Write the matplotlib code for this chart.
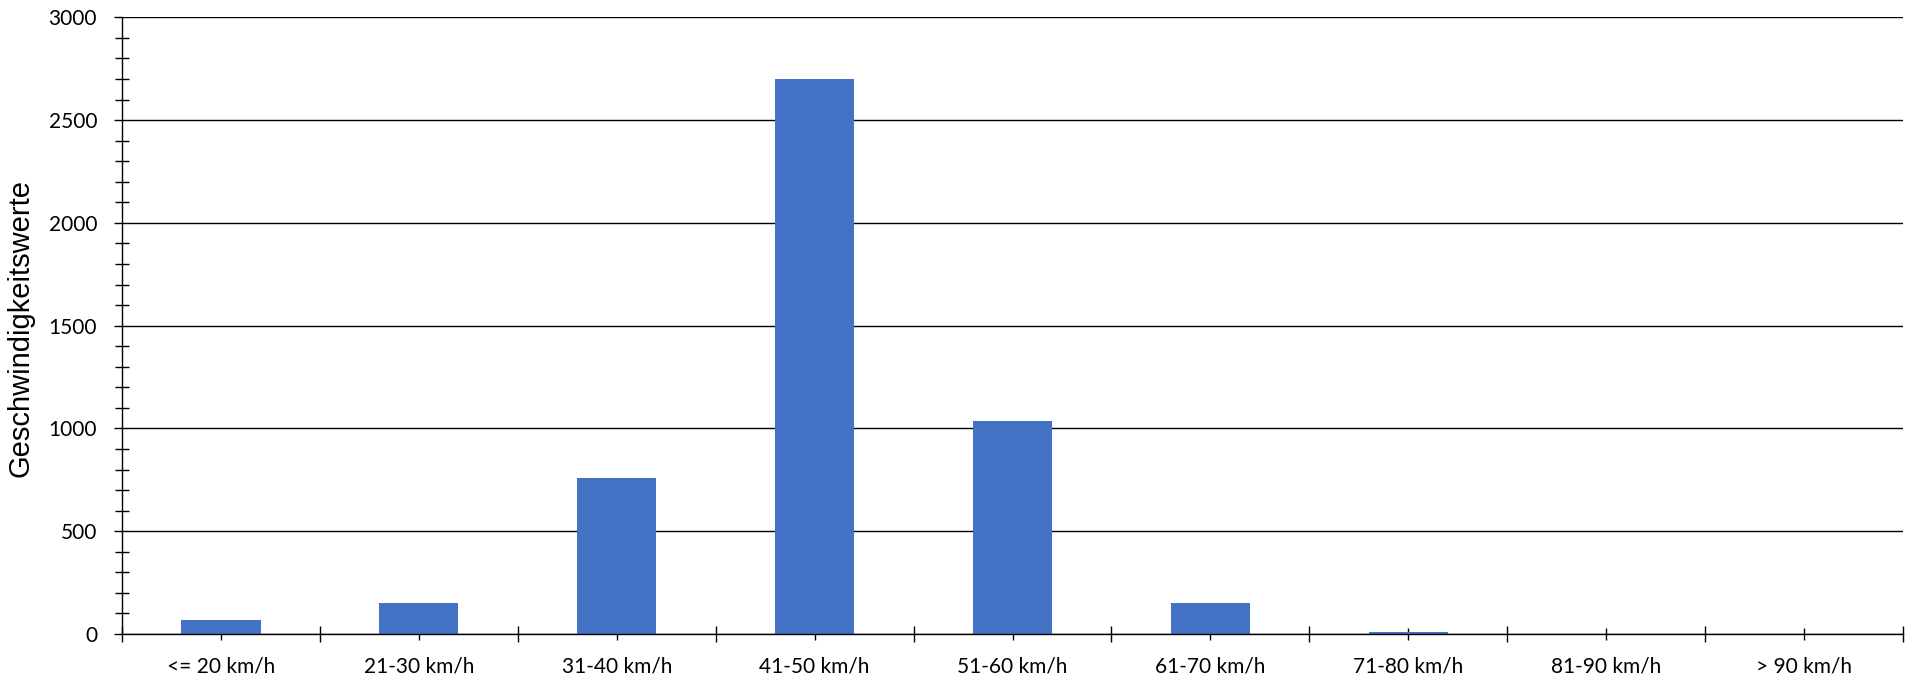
import matplotlib
matplotlib.use("Agg")
import matplotlib.pyplot as plt
import numpy as np
from matplotlib.ticker import MultipleLocator, FixedLocator

categories = ["<= 20 km/h", "21-30 km/h", "31-40 km/h", "41-50 km/h", "51-60 km/h",
              "61-70 km/h", "71-80 km/h", "81-90 km/h", "> 90 km/h"]
values = [66, 150, 757, 2700, 1036, 152, 10, 0, 0]
y_label = "Geschwindigkeitswerte"

W, H = 1913, 679
fig = plt.figure(figsize=(W / 100, H / 100), dpi=100)
ax = fig.add_axes([122 / W, 1 - 634 / H, (1903 - 122) / W, (634 - 17.3) / H])

x = np.arange(len(categories))
ax.bar(x, values, width=0.4, color="#4472C4", zorder=3)

ax.set_xlim(-0.5, len(categories) - 0.5)
ax.set_ylim(0, 3000)

# y axis
ax.yaxis.set_major_locator(MultipleLocator(500))
ax.yaxis.set_minor_locator(MultipleLocator(100))
ax.grid(axis="y", which="major", color="black", linewidth=1.0, zorder=1)
ax.tick_params(axis="y", which="major", direction="out", length=6, width=1,
               labelsize=15, pad=12)
ax.tick_params(axis="y", which="minor", direction="inout", length=9.4, width=1)

# x axis
ax.set_xticks(x)
ax.set_xticklabels(categories)
ax.xaxis.set_minor_locator(FixedLocator(np.arange(-0.5, len(categories), 1.0)))
ax.tick_params(axis="x", which="major", direction="inout", length=8.6, width=1,
               labelsize=15, pad=12)
ax.tick_params(axis="x", which="minor", direction="inout", length=11, width=1)

for lab in ax.get_xticklabels() + ax.get_yticklabels():
    lab.set_fontfamily("Lato")
    lab.set_color("black")

for s in ["top", "right"]:
    ax.spines[s].set_visible(False)
for s in ["left", "bottom"]:
    ax.spines[s].set_color("black")
    ax.spines[s].set_linewidth(1.0)
    ax.spines[s].set_zorder(4)

ax.set_ylabel(y_label, fontsize=21, fontfamily="Liberation Sans")
ax.yaxis.set_label_coords(-0.0494, 0.496)

fig.savefig("out.png", dpi=100, facecolor="white")
